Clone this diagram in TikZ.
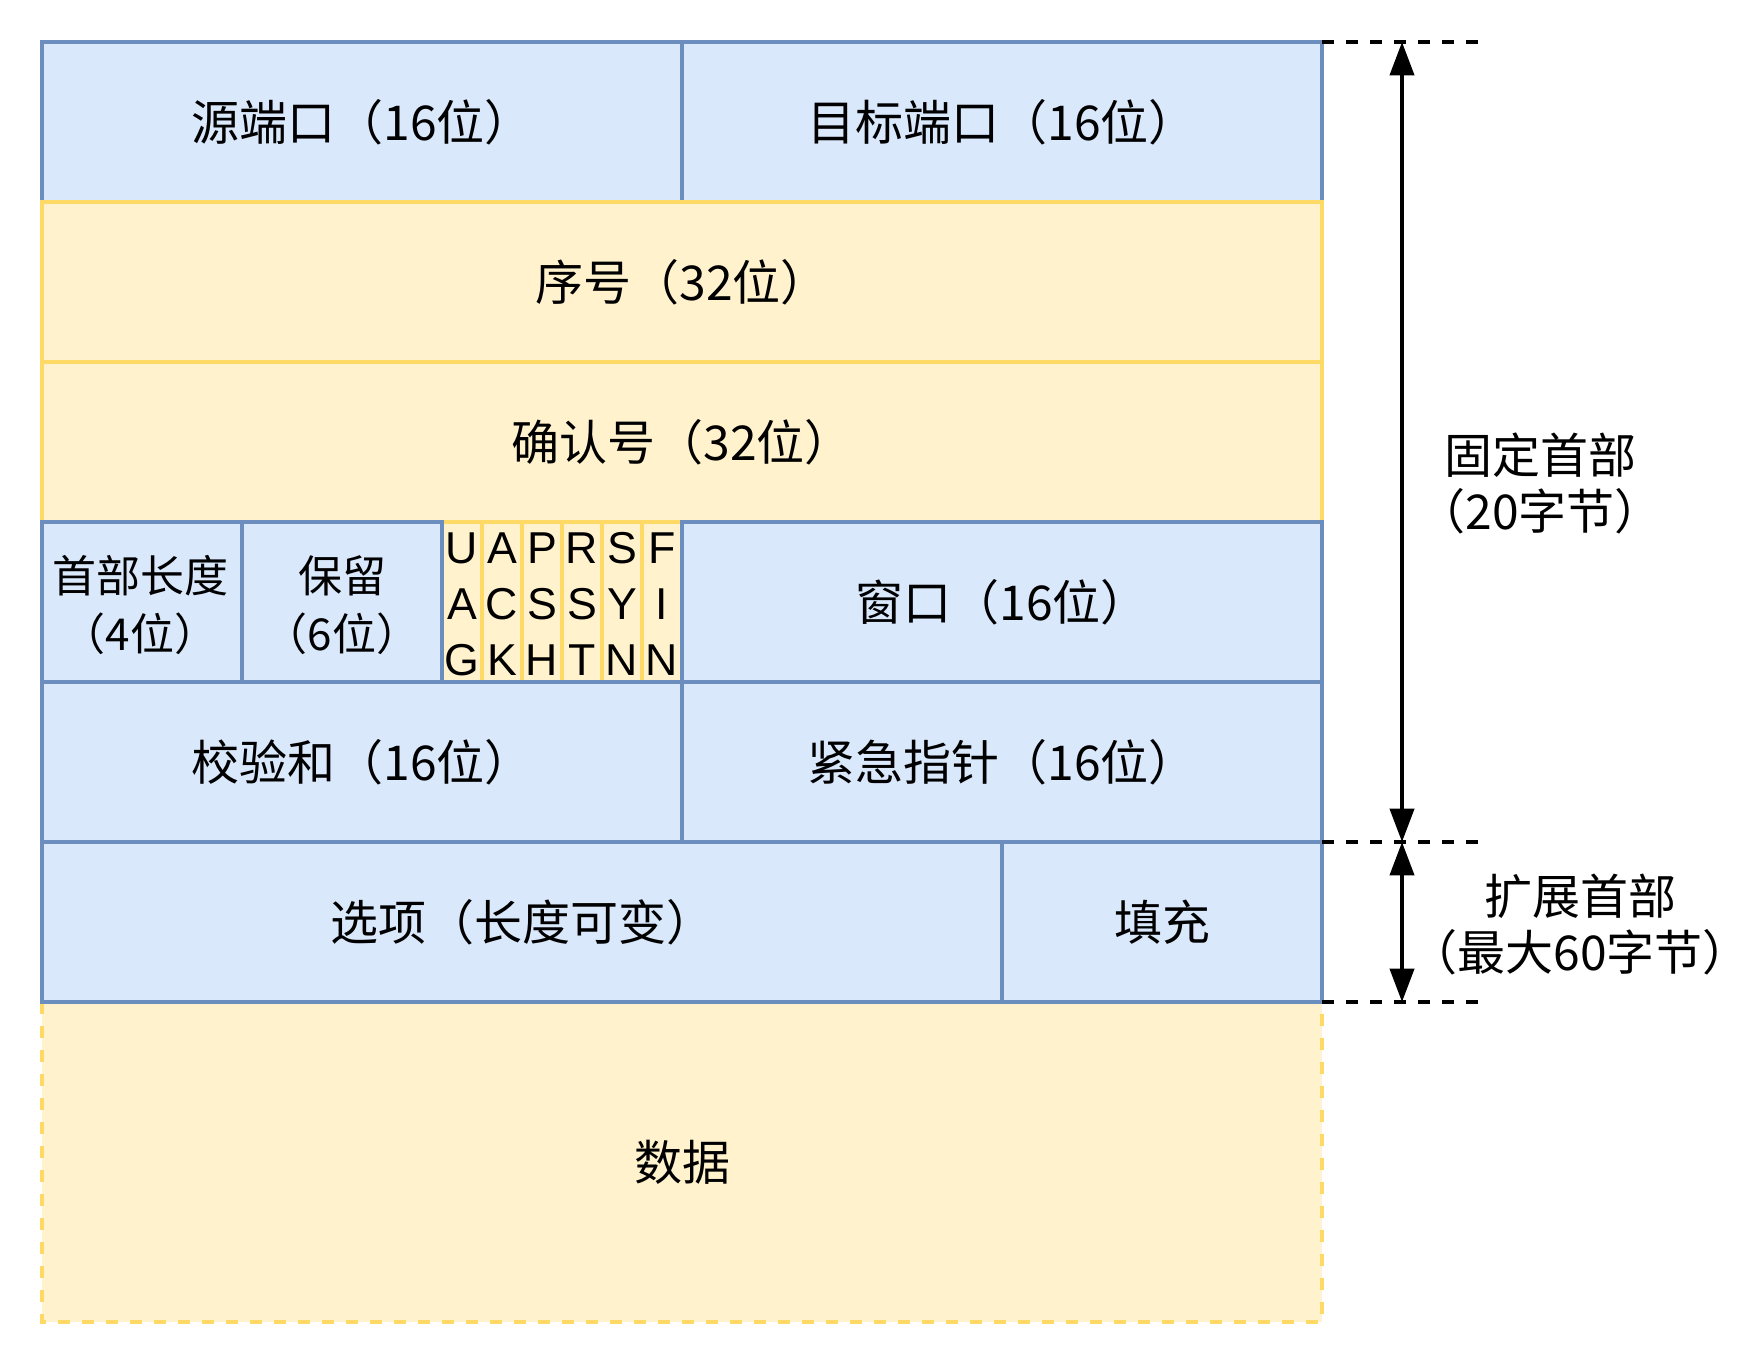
\documentclass[tikz,border=0pt]{standalone}
\usepackage{fontspec}
\setmainfont{Noto Sans CJK SC}
\newfontfamily\flagfont{Liberation Sans}
\usetikzlibrary{arrows.meta}
\definecolor{bfill}{HTML}{DAE8FC}
\definecolor{bline}{HTML}{6C8EBF}
\definecolor{yfill}{HTML}{FFF2CC}
\definecolor{yline}{HTML}{FFD966}
\tikzset{
  bluebox/.style={fill=bfill,draw=bline,line width=3pt},
  yelbox/.style={fill=yfill,draw=yline,line width=3pt},
  datbox/.style={fill=yfill,draw=yline,line width=3pt,dash pattern=on 9pt off 9pt},
  lbl/.style={inner sep=0pt,align=center,font=\fontsize{36pt}{42pt}\selectfont},
  slbl/.style={inner sep=0pt,align=center,font=\fontsize{33pt}{44pt}\selectfont},
  flbl/.style={inner sep=0pt,align=center,font=\flagfont\fontsize{33.5pt}{42pt}\selectfont},
  guide/.style={draw=black,line width=3pt,dash pattern=on 9pt off 9pt},
  dim/.style={draw=black,line width=3pt,
    {Triangle[length=25pt,width=18pt]}-{Triangle[length=25pt,width=18pt]}}
}
\begin{document}
\begin{tikzpicture}[x=0.75pt,y=-0.75pt]
\useasboundingbox (0,0) rectangle (1764,1364);
% data (drawn first, top edge covered by row 6)
\path[datbox] (42,1002) rectangle (1322,1322);
\node[lbl] (data) at (682,1162) {数据};
% row 1
\path[bluebox] (42,42) rectangle (682,202);
\path[bluebox] (682,42) rectangle (1322,202);
\node[lbl] (src) at (362,122) {源端口（16位）};
\node[lbl] (dst) at (1002,122) {目标端口（16位）};
% row 2
\path[yelbox] (42,202) rectangle (1322,362);
\node[lbl] (seq) at (682,282) {序号（32位）};
% row 3
\path[yelbox] (42,362) rectangle (1322,522);
\node[lbl] (ack) at (682,442) {确认号（32位）};
% row 4 flags
\path[yelbox] (442,522) rectangle (482,682);
\path[yelbox] (482,522) rectangle (522,682);
\path[yelbox] (522,522) rectangle (562,682);
\path[yelbox] (562,522) rectangle (602,682);
\path[yelbox] (602,522) rectangle (642,682);
\path[yelbox] (642,522) rectangle (682,682);
\node[flbl] (furg) at (462,604) {U\\A\\G};
\node[flbl] (fack) at (502,604) {A\\C\\K};
\node[flbl] (fpsh) at (542,604) {P\\S\\H};
\node[flbl] (frst) at (582,604) {R\\S\\T};
\node[flbl] (fsyn) at (622,604) {S\\Y\\N};
\node[flbl] (ffin) at (662,604) {F\\I\\N};
% row 4 blue
\path[bluebox] (42,522) rectangle (242,682);
\path[bluebox] (242,522) rectangle (442,682);
\path[bluebox] (682,522) rectangle (1322,682);
\node[slbl] (hlen) at (140,605) {首部长度\\（4位）};
\node[slbl] (resv) at (342,605) {保留\\（6位）};
\node[lbl] (win) at (1002,602) {窗口（16位）};
% row 5
\path[bluebox] (42,682) rectangle (682,842);
\path[bluebox] (682,682) rectangle (1322,842);
\node[lbl] (chk) at (362,762) {校验和（16位）};
\node[lbl] (urg) at (1002,762) {紧急指针（16位）};
% row 6
\path[bluebox] (42,842) rectangle (1002,1002);
\path[bluebox] (1002,842) rectangle (1322,1002);
\node[lbl] (opt) at (522,922) {选项（长度可变）};
\node[lbl] (pad) at (1162,922) {填充};
% right side guides
\coordinate (g0s) at (1322,42);   \coordinate (g0e) at (1478,42);
\coordinate (g1s) at (1322,842);  \coordinate (g1e) at (1478,842);
\coordinate (g2s) at (1322,1002); \coordinate (g2e) at (1478,1002);
\draw[guide] (g0s) -- (g0e);
\draw[guide] (g1s) -- (g1e);
\draw[guide] (g2s) -- (g2e);
\coordinate (t0) at (1402,42);
\coordinate (t1) at (1402,842);
\coordinate (t2) at (1402,1002);
\draw[dim] (t0) -- (t1);
\draw[dim] (t1) -- (t2);
\node[lbl] (fixed) at (1540,483) {固定首部\\（20字节）};
\node[lbl] (ext) at (1580,925) {扩展首部\\（最大60字节）};
\end{tikzpicture}
\end{document}
